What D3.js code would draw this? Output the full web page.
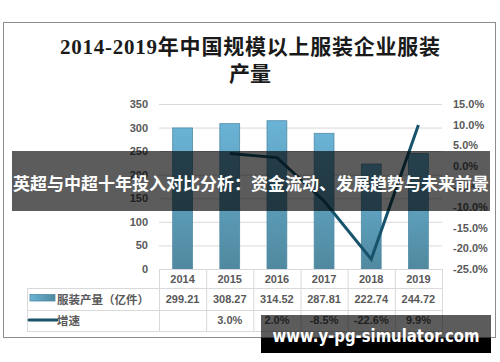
<!DOCTYPE html>
<html>
<head>
<meta charset="utf-8">
<script src="https://cdn.jsdelivr.net/npm/d3@7/dist/d3.min.js"></script>
<style>
html,body{margin:0;padding:0;background:#fff;}
svg{display:block;}
</style>
</head>
<body>
<svg id="chart" width="500" height="362"></svg>
<script>
// ---- data ----
const years = ["2014","2015","2016","2017","2018","2019"];
const output = [299.21, 308.27, 314.52, 287.81, 222.74, 244.72];
const growth = [null, 3.0, 2.0, -8.5, -22.6, 9.9];
const leftTicks = [0,50,100,150,200,250,300,350];
const rightTicks = [-25,-20,-15,-10,-5,0,5,10,15];
const titleLines = ["2014-2019年中国规模以上服装企业服装","产量"];
const seriesNames = ["服装产量（亿件）","增速"];
const bannerText = "英超与中超十年投入对比分析：资金流动、发展趋势与未来前景";
const watermark = "www.y-pg-simulator.com";

const svg = d3.select("#chart");
const labelFont = "'Liberation Sans', Arial, sans-serif";
const cjkFont = "'Noto Sans CJK SC', sans-serif";

// outer border
svg.append("rect").attr("x",3.5).attr("y",22.5).attr("width",492).attr("height",315)
  .attr("fill","#fff").attr("stroke","#8c8c8c").attr("stroke-width",1);

// title
svg.append("g").selectAll("text").data(titleLines).join("text")
  .attr("x",250).attr("y",(d,i)=>54+i*27)
  .attr("text-anchor","middle")
  .attr("font-family","'Liberation Serif', 'Noto Sans CJK SC', serif")
  .attr("font-size",21).attr("font-weight","bold").attr("fill","#1a1a1a")
  .each(function(d,i){ if(i===0) d3.select(this).attr("textLength",380).attr("lengthAdjust","spacing"); })
  .text(d=>d);

// scales
const x = d3.scaleBand().domain(years).range([159,442]).padding(0);
const yL = d3.scaleLinear().domain([0,350]).range([269,104]);
const yR = d3.scaleLinear().domain([-25,15]).range([269,104]);

// gridlines
svg.append("g").selectAll("line").data(leftTicks.filter(d=>d>0)).join("line")
  .attr("x1",159).attr("x2",442).attr("y1",d=>yL(d)+0.5).attr("y2",d=>yL(d)+0.5)
  .attr("stroke","#d9d9d9").attr("stroke-width",1);

// left axis
const axL = svg.append("g").attr("transform","translate(159,0)")
  .call(d3.axisLeft(yL).tickValues(leftTicks).tickSize(0).tickPadding(11));
axL.select(".domain").remove();
axL.selectAll("text").attr("font-family",labelFont).attr("font-size",11)
  .attr("font-weight","bold").attr("fill","#595959");

// right axis
const axR = svg.append("g").attr("transform","translate(442,0)")
  .call(d3.axisRight(yR).tickValues(rightTicks).tickSize(0).tickPadding(11)
    .tickFormat(d=>d.toFixed(1)+"%"));
axR.select(".domain").remove();
axR.selectAll("text").attr("font-family",labelFont).attr("font-size",11)
  .attr("font-weight","bold").attr("fill","#595959");

// gradient
const defs = svg.append("defs");
const grad = defs.append("linearGradient").attr("id","barGrad")
  .attr("x1",0).attr("y1",0).attr("x2",0).attr("y2",1);
grad.append("stop").attr("offset","0%").attr("stop-color","#6ab3d6");
grad.append("stop").attr("offset","100%").attr("stop-color","#50899f");
const gradH = defs.append("linearGradient").attr("id","barGradH")
  .attr("x1",0).attr("y1",0).attr("x2",1).attr("y2",0);
gradH.append("stop").attr("offset","0%").attr("stop-color","#6ab3d6");
gradH.append("stop").attr("offset","100%").attr("stop-color","#50899f");

// bars
const bw = x.bandwidth()*0.42;
svg.append("g").selectAll("rect").data(output).join("rect")
  .attr("x",(d,i)=>x(years[i])+x.bandwidth()/2-bw/2)
  .attr("y",d=>yL(d))
  .attr("width",bw)
  .attr("height",d=>yL(0)-yL(d))
  .attr("fill","url(#barGrad)")
  .attr("stroke","#4f8ba6").attr("stroke-width",0.8);

// line
const lineData = growth.map((g,i)=>({y:years[i],g})).filter(d=>d.g!==null);
svg.append("path").datum(lineData)
  .attr("d",d3.line().x(d=>x(d.y)+x.bandwidth()/2).y(d=>yR(d.g)))
  .attr("fill","none").attr("stroke","#17546c").attr("stroke-width",3)
  .attr("stroke-linejoin","miter");

// data table
const tbl = svg.append("g").attr("stroke","#d9d9d9").attr("stroke-width",1);
const rowY = [269, 288, 310, 331];
tbl.append("line").attr("x1",159).attr("x2",442).attr("y1",rowY[0]+0.5).attr("y2",rowY[0]+0.5);
rowY.slice(1).forEach(yy=>{
  tbl.append("line").attr("x1",27).attr("x2",442).attr("y1",yy+0.5).attr("y2",yy+0.5);
});
tbl.append("line").attr("x1",27.5).attr("x2",27.5).attr("y1",rowY[1]).attr("y2",rowY[3]);
years.forEach(yv=>{
  tbl.append("line").attr("x1",x(yv)+0.5).attr("x2",x(yv)+0.5).attr("y1",rowY[0]).attr("y2",rowY[3]);
});
tbl.append("line").attr("x1",442.5).attr("x2",442.5).attr("y1",rowY[0]).attr("y2",rowY[3]);

const cellText = (arr, yy, fmt) => svg.append("g").selectAll("text").data(arr).join("text")
  .attr("x",(d,i)=>x(years[i])+x.bandwidth()/2).attr("y",yy)
  .attr("text-anchor","middle").attr("dominant-baseline","central")
  .attr("font-family",labelFont).attr("font-size",11).attr("font-weight","bold")
  .attr("fill","#595959").text(fmt);
cellText(years, 279, d=>d);
cellText(output, 299, d=>d.toFixed(2));
cellText(growth, 320, d=>d===null?"":d.toFixed(1)+"%");

// legend keys
svg.append("rect").attr("x",30).attr("y",294.5).attr("width",25).attr("height",6.5)
  .attr("fill","url(#barGradH)").attr("stroke","#4f8ba6").attr("stroke-width",0.8);
svg.append("line").attr("x1",29).attr("x2",57).attr("y1",320).attr("y2",320)
  .attr("stroke","#17546c").attr("stroke-width",3).attr("stroke-linecap","round");
svg.append("g").selectAll("text").data(seriesNames).join("text")
  .attr("x",57).attr("y",(d,i)=>i===0?299:320)
  .attr("dominant-baseline","central")
  .attr("font-family",cjkFont).attr("font-size",11.5).attr("font-weight","bold")
  .attr("fill","#595959").text(d=>d);

// banner overlay
svg.append("rect").attr("x",12).attr("y",151).attr("width",478).attr("height",60)
  .attr("fill","rgba(0,0,0,0.64)");
svg.append("text").attr("x",251).attr("y",182)
  .attr("text-anchor","middle").attr("dominant-baseline","central")
  .attr("font-family",cjkFont).attr("font-size",17).attr("font-weight","bold")
  .attr("fill","#fff").text(bannerText);

// watermark overlay
svg.append("rect").attr("x",261).attr("y",315).attr("width",230).attr("height",23)
  .attr("fill","rgba(0,0,0,0.64)");
svg.append("rect").attr("x",261).attr("y",338).attr("width",230).attr("height",15)
  .attr("fill","#000");
svg.append("text").attr("x",376).attr("y",336)
  .attr("text-anchor","middle").attr("dominant-baseline","central")
  .attr("font-family","'DejaVu Sans', sans-serif").attr("font-size",17).attr("font-weight","bold")
  .attr("textLength",207).attr("lengthAdjust","spacingAndGlyphs")
  .attr("fill","#fff").text(watermark);
</script>
</body>
</html>
